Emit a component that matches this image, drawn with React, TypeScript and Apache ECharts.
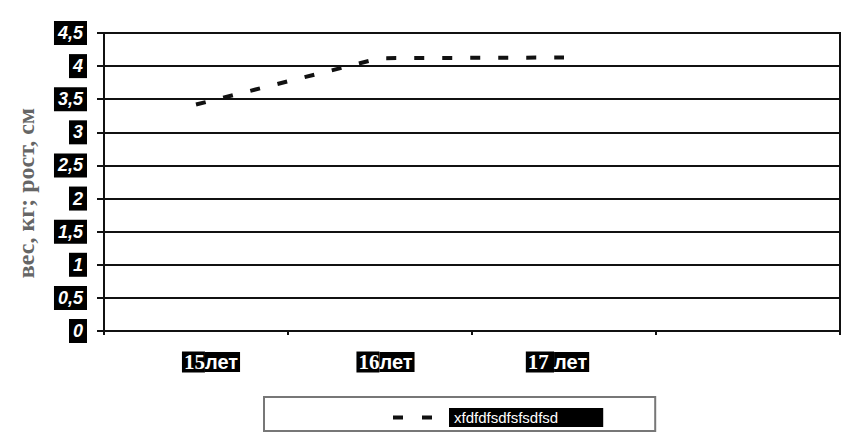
import React, { useEffect, useRef } from "react";
import * as echarts from "echarts";

const categories = ["15лет", "16лет", "17 лет", ""];
const seriesValues: (number | string)[] = [3.42, 4.12, 4.13, "-"];
const seriesName = "xfdfdfsdfsfsdfsd";
const yTitle = "вес, кг; рост, см";

// label nudges (spacer widths) to match the reference placement
const labelLead = [30, 11, 0, 0];
const labelTrail = [0, 0, 13, 0];

export default function App() {
  const ref = useRef<HTMLDivElement>(null);
  useEffect(() => {
    if (!ref.current) return;
    const chart = echarts.init(ref.current, null, { renderer: "svg" });
    const richX: any = {
      n: {
        color: "#fff",
        backgroundColor: "#000",
        fontFamily: "Liberation Serif",
        fontWeight: "bold",
        fontSize: 21,
        lineHeight: 20,
        padding: [0, 0, 0, 2],
      },
      l: {
        color: "#fff",
        backgroundColor: "#000",
        fontFamily: "Liberation Sans",
        fontWeight: "bold",
        fontSize: 20,
        lineHeight: 20,
        padding: [0, 2, 0, 0],
      },
    };
    categories.forEach((_, i) => {
      richX["a" + i] = { width: labelLead[i], lineHeight: 20 };
      richX["b" + i] = { width: labelTrail[i], lineHeight: 20 };
    });
    chart.setOption({
      animation: false,
      backgroundColor: "#ffffff",
      grid: {
        left: 104,
        right: 14,
        top: 33,
        bottom: 113,
        show: true,
        borderColor: "#111",
        borderWidth: 2,
        containLabel: false,
      },
      legend: {
        left: 264,
        top: 397,
        padding: [11, 52, 4, 129],
        borderColor: "#777",
        borderWidth: 2,
        itemWidth: 39,
        itemHeight: 4,
        data: [
          {
            name: seriesName,
            icon: "path://M0,0H10V4H0Z M29,0H39V4H29Z",
            itemStyle: { color: "#111" },
          },
        ],
        formatter: (n: string) => `{g|}{t|${n}}`,
        textStyle: {
          rich: {
            g: { width: 12 },
            t: {
              backgroundColor: "#000",
              color: "#fff",
              fontFamily: "Liberation Sans",
              fontSize: 15,
              lineHeight: 14,
              padding: [2, 45, 2, 5],
            },
          },
        },
      },
      xAxis: {
        type: "category",
        data: categories,
        boundaryGap: true,
        axisLine: { show: true, lineStyle: { color: "#111", width: 2 } },
        axisTick: { show: true, length: 4, lineStyle: { color: "#111", width: 2 } },
        axisLabel: {
          margin: 21,
          formatter: (v: string, i: number) => {
            if (!v) return "";
            const m = v.match(/^(\d+)(\s?)(.*)$/);
            if (!m) return v;
            const lead = labelLead[i] ? `{a${i}|}` : "";
            const trail = labelTrail[i] ? `{b${i}|}` : "";
            return `${lead}{n|${m[1]}${m[2]}}{l|${m[3]}}${trail}`;
          },
          rich: richX,
        },
      },
      yAxis: {
        type: "value",
        min: 0,
        max: 4.5,
        interval: 0.5,
        name: yTitle,
        nameLocation: "middle",
        nameGap: 66,
        nameRotate: 90,
        nameTextStyle: {
          fontFamily: "Liberation Serif",
          fontWeight: "bold",
          fontSize: 24,
          color: "#666",
          padding: [0, 0, 0, -22],
        },
        axisLine: { show: true, lineStyle: { color: "#111", width: 2 } },
        axisTick: { show: true, length: 7, lineStyle: { color: "#111", width: 2 } },
        splitLine: { show: true, lineStyle: { color: "#111", width: 2 } },
        axisLabel: {
          margin: 17,
          formatter: (v: number) => String(v).replace(".", ","),
          color: "#fff",
          backgroundColor: "#000",
          fontFamily: "Liberation Sans",
          fontStyle: "italic",
          fontWeight: "bold",
          fontSize: 18,
          lineHeight: 18,
          padding: [3, 4, 3, 4],
        },
      },
      series: [
        {
          name: seriesName,
          type: "line",
          data: seriesValues,
          symbol: "none",
          lineStyle: { color: "#111", width: 4, type: [10, 18], cap: "butt" },
          itemStyle: { color: "#111" },
        },
      ],
    });
    return () => chart.dispose();
  }, []);
  return <div ref={ref} style={{ width: 854, height: 444, margin: -8 }} />;
}
